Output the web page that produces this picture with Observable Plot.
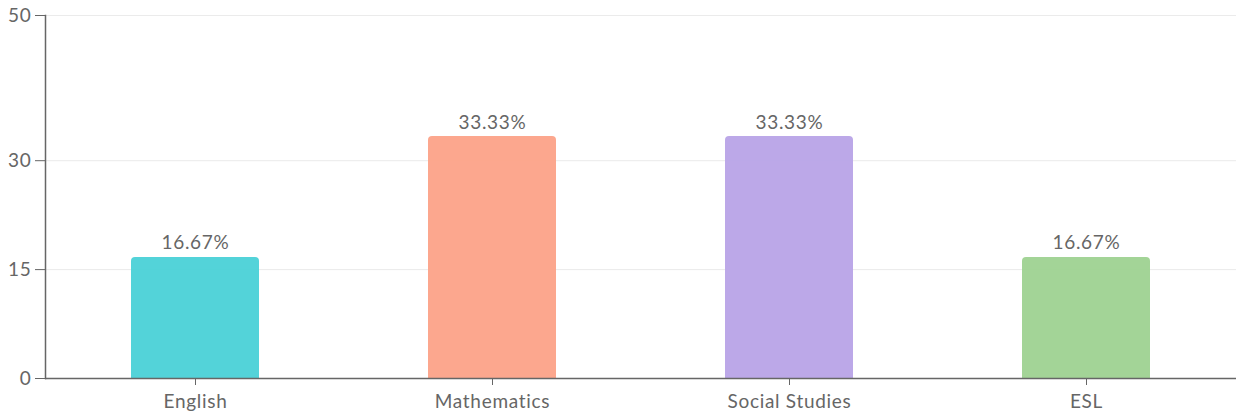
<!DOCTYPE html>
<html><head><meta charset="utf-8">
<script src="https://cdn.jsdelivr.net/npm/d3@7"></script>
<script src="https://cdn.jsdelivr.net/npm/@observablehq/plot@0.6"></script>
<style>body{margin:0;background:#fff;} svg{display:block;} svg text{letter-spacing:0.7px;}</style>
</head><body><div id="chart"></div>
<script>
const categories = ["English", "Mathematics", "Social Studies", "ESL"];
const values = [16.67, 33.33, 33.33, 16.67];
const colors = ["#53d3d9", "#fca78e", "#bca8e8", "#a3d497"];
const yTicks = [0, 15, 30, 50];

const data = categories.map((c, i) => ({cat: c, v: values[i], color: colors[i]}));

const chart = Plot.plot({
  width: 1239, height: 416,
  marginLeft: 45, marginRight: 3, marginTop: 15, marginBottom: 38,
  style: {fontFamily: "Lato, 'Source Sans Pro', sans-serif", fontSize: "19px", color: "#666", background: "#fff"},
  x: {domain: categories, paddingInner: 0.57, paddingOuter: 0.285, label: null},
  y: {domain: [0, 50], label: null},
  marks: [
    Plot.gridY(yTicks.filter(d => d > 0), {stroke: "#ebebeb", strokeOpacity: 1}),
    Plot.barY(data, {x: "cat", y: "v", fill: "color", rx: 4}),
    Plot.barY(data, {x: "cat", y1: 0, y2: d => d.v * 0.9, fill: "color"}),
    Plot.text(data, {x: "cat", y: "v", text: d => d.v.toFixed(2) + "%", lineAnchor: "bottom", dy: -8, fill: "#666", fontSize: 19}),
    Plot.axisY({ticks: yTicks, tickSize: 10, tickPadding: 4, stroke: "#666", fill: "#666", fontSize: 19}),
    Plot.axisX({tickSize: 7, tickPadding: 9, stroke: "#666", fill: "#666", fontSize: 19}),
    Plot.frame({anchor: "left", stroke: "#666", strokeWidth: 1.5}),
    Plot.ruleY([0], {stroke: "#666", strokeWidth: 1.5})
  ]
});
document.getElementById("chart").append(chart);
</script>
</body></html>
